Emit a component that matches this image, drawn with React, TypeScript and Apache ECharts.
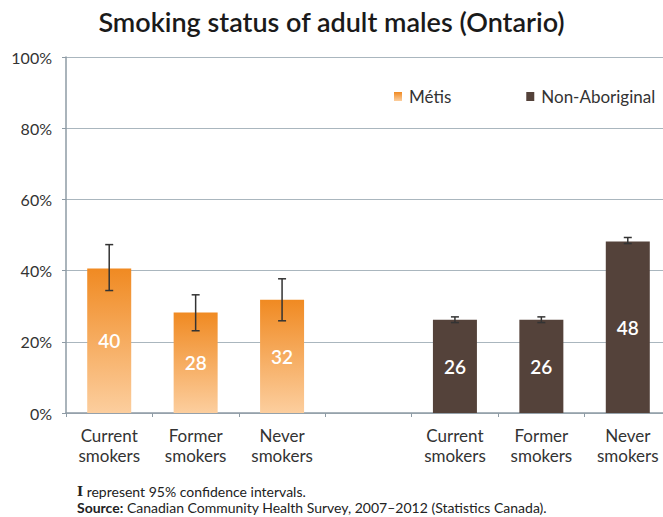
import React, { useEffect, useRef } from "react";
import * as echarts from "echarts";

const groupLabels = ["Current\nsmokers", "Former\nsmokers", "Never\nsmokers"];
const metisValues = [40.6, 28.2, 31.8];
const metisLabels = ["40", "28", "32"];
const metisLow = [34.4, 23.1, 25.9];
const metisHigh = [47.3, 33.2, 37.7];
const nonAbValues = [26.2, 26.2, 48.2];
const nonAbLabels = ["26", "26", "48"];
const nonAbLow = [25.4, 25.4, 47.6];
const nonAbHigh = [27.0, 27.0, 49.3];
const yTicks = [0, 20, 40, 60, 80, 100];

const FONT = "Lato, 'Open Sans', sans-serif";

export default function App() {
  const ref = useRef<HTMLDivElement>(null);
  useEffect(() => {
    if (!ref.current) return;
    const chart = echarts.init(ref.current, undefined, { renderer: "svg" });
    const categories = [...groupLabels, "", ...groupLabels];
    const metisData: any[] = [
      ...metisValues.map((v, i) => ({ value: v, label: metisLabels[i] })),
      "-", "-", "-", "-",
    ];
    const nonAbData: any[] = [
      "-", "-", "-", "-",
      ...nonAbValues.map((v, i) => ({ value: v, label: nonAbLabels[i] })),
    ];
    const errData: number[][] = [
      ...metisLow.map((l, i) => [i, l, metisHigh[i]]),
      ...nonAbLow.map((l, i) => [i + 4, l, nonAbHigh[i]]),
    ];
    const orange = new echarts.graphic.LinearGradient(0, 0, 0, 1, [
      { offset: 0, color: "#F08A22" },
      { offset: 1, color: "#FCCE9E" },
    ]);
    const labelCfg = {
      show: true,
      position: "inside",
      color: "#ffffff",
      fontSize: 19,
      fontFamily: FONT,
      fontWeight: 600,
      formatter: (p: any) => p.data.label,
    };
    chart.setOption({
      animation: false,
      backgroundColor: "#ffffff",
      title: {
        text: "Smoking status of adult males (Ontario)",
        left: "center",
        top: 3,
        textStyle: { fontFamily: FONT, fontSize: 27, fontWeight: 600, color: "#1a1a1a" },
      },
      legend: {
        left: 389,
        top: 83,
        itemWidth: 8,
        itemHeight: 9,
        itemGap: 75,
        icon: "rect",
        textStyle: { fontFamily: FONT, fontSize: 17, color: "#333", padding: [0, 0, 0, 2] },
        data: ["Métis", "Non-Aboriginal"],
      },
      grid: { left: 66, width: 605, top: 57, bottom: 104, outerBoundsMode: "none", containLabel: false },
      xAxis: {
        type: "category",
        data: categories,
        axisLine: { show: true, lineStyle: { color: "#8E9BA5", width: 1.5 } },
        axisTick: { show: true, length: 4, lineStyle: { color: "#8E9BA5" } },
        axisLabel: {
          fontFamily: FONT,
          fontSize: 17,
          color: "#333",
          lineHeight: 20,
          margin: 12,
          interval: 0,
        },
      },
      yAxis: {
        type: "value",
        min: 0,
        max: 100,
        interval: 20,
        axisLine: { show: true, lineStyle: { color: "#8E9BA5", width: 1.5 } },
        axisTick: { show: true, length: 4, lineStyle: { color: "#8E9BA5" } },
        splitLine: { lineStyle: { color: "#AAB6BE", width: 1 } },
        axisLabel: {
          fontFamily: FONT,
          fontSize: 16,
          color: "#333",
          margin: 14,
          formatter: (v: number) => (yTicks.includes(v) ? v + "%" : ""),
        },
      },
      series: [
        {
          name: "Métis",
          type: "bar",
          barWidth: 44,
          barGap: "-100%",
          data: metisData,
          itemStyle: { color: orange },
          label: labelCfg,
        },
        {
          name: "Non-Aboriginal",
          type: "bar",
          barWidth: 44,
          barGap: "-100%",
          data: nonAbData,
          itemStyle: { color: "#54423A" },
          label: labelCfg,
        },
        {
          name: "ci",
          type: "custom",
          data: errData,
          z: 10,
          encode: { x: 0, y: [1, 2] },
          renderItem: (params: any, api: any) => {
            const x = api.value(0);
            const lo = api.coord([x, api.value(1)]);
            const hi = api.coord([x, api.value(2)]);
            const half = 4;
            const style = { stroke: "#333333", lineWidth: 1.5 };
            return {
              type: "group",
              children: [
                { type: "line", shape: { x1: lo[0], y1: lo[1], x2: hi[0], y2: hi[1] }, style },
                { type: "line", shape: { x1: hi[0] - half, y1: hi[1], x2: hi[0] + half, y2: hi[1] }, style },
                { type: "line", shape: { x1: lo[0] - half, y1: lo[1], x2: lo[0] + half, y2: lo[1] }, style },
              ],
            };
          },
        },
      ],
      graphic: [
        {
          type: "text",
          x: 77,
          y: 483,
          style: {
            text: "{i|I} represent 95% confidence intervals.",
            fontFamily: FONT,
            fontSize: 14,
            lineHeight: 16,
            fill: "#222",
            verticalAlign: "top",
            rich: {
              i: { fontFamily: "'DejaVu Serif', serif", fontWeight: "bold", fontSize: 13, lineHeight: 16, fill: "#222" },
            },
          },
        },
        {
          type: "text",
          x: 77,
          y: 499,
          style: {
            text: "{b|Source:} Canadian Community Health Survey, 2007–2012 (Statistics Canada).",
            fontFamily: FONT,
            fontSize: 14,
            lineHeight: 16,
            fill: "#222",
            verticalAlign: "top",
            rich: {
              b: { fontFamily: FONT, fontWeight: "bold", fontSize: 14, lineHeight: 16, fill: "#222" },
            },
          },
        },
      ],
    });
    return () => chart.dispose();
  }, []);
  return <div ref={ref} style={{ width: 663, height: 517, position: "absolute", left: 0, top: 0 }} />;
}
